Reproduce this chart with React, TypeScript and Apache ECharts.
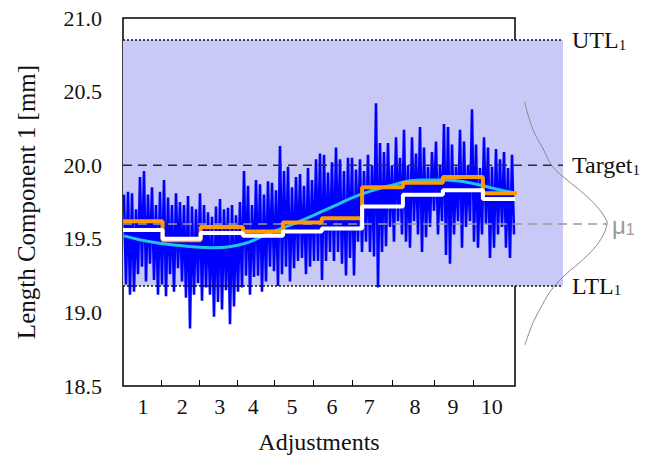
import React, { useEffect, useRef } from "react";
import * as echarts from "echarts";

// ---------- data ----------
const adjustmentLabels = ["1", "2", "3", "4", "5", "6", "7", "8", "9", "10"];
// x positions (axis units) of the adjustment labels and of the boundary ticks
const labelPos = [0.51, 1.51, 2.47, 3.32, 4.31, 5.33, 6.28, 7.45, 8.42, 9.41];
const tickBounds = [0.97, 1.94, 2.91, 3.85, 4.85, 5.84, 6.86, 7.93, 8.93];

// step (per-adjustment) levels
const stepStarts = [0, 1.01, 1.98, 3.06, 4.08, 5.07, 6.1, 7.14, 8.16, 9.18];
const orangeLevels = [19.62, 19.49, 19.58, 19.55, 19.61, 19.64, 19.85, 19.88, 19.92, 19.81];
const whiteLevels = [19.56, 19.5, 19.54, 19.52, 19.55, 19.57, 19.72, 19.8, 19.83, 19.77];
const orangeEnd = 10.13;
const whiteEnd = 10.0;

// smooth cyan trend
const cyanX = [0.03, 0.69, 1.45, 2.22, 2.98, 3.75, 4.52, 5.28, 6.05, 6.81, 7.58, 8.21, 8.85, 9.49, 10.0];
const cyanY = [19.52, 19.48, 19.455, 19.44, 19.46, 19.54, 19.62, 19.71, 19.8, 19.86, 19.9, 19.9, 19.88, 19.84, 19.81];

// measured signal: local maxima and minima, alternating in time
const blueTops = [
  19.8, 19.82, 19.81, 19.7, 19.92, 19.96, 19.8, 19.85, 19.73, 19.82,
  19.9, 19.78, 19.73, 19.81, 19.75, 19.73, 19.79, 19.72, 19.7, 19.81,
  19.73, 19.68, 19.65, 19.72, 19.77, 19.7, 19.71, 19.73, 19.66, 19.75,
  19.96, 19.86, 19.73, 19.9, 19.87, 19.8, 19.89, 19.88, 19.83, 20.13,
  19.96, 19.99, 19.85, 19.92, 19.94, 19.86, 19.98, 19.9, 20.04, 20.08,
  20.07, 19.95, 20.02, 20.12, 20.04, 19.96, 20.05, 20.05, 19.97, 20.04,
  19.96, 20.07, 20.0, 20.42, 20.15, 20.09, 20.15, 20.0, 20.19, 20.05,
  20.24, 20.0, 20.19, 20.08, 20.26, 20.12, 19.99, 20.09, 20.16, 20.0,
  20.28, 20.26, 20.14, 19.99, 20.24, 20.16, 20.0, 20.38, 20.14, 19.98,
  20.19, 20.12, 19.99, 20.11, 20.04, 20.09, 19.98, 20.07,
];
const blueBottoms = [
  19.19, 19.12, 19.14, 19.26, 19.31, 19.21, 19.33, 19.22, 19.12, 19.19,
  19.11, 19.26, 19.14, 19.3, 19.21, 19.1, 18.89, 19.12, 19.2, 19.08,
  19.17, 19.12, 18.97, 19.07, 19.02, 19.15, 18.92, 19.04, 19.14, 19.17,
  19.25, 19.12, 19.24, 19.25, 19.14, 19.21, 19.31, 19.28, 19.18, 19.26,
  19.31, 19.21, 19.3, 19.35, 19.37, 19.26, 19.31, 19.35, 19.35, 19.22,
  19.35, 19.41, 19.35, 19.41, 19.33, 19.25, 19.37, 19.25, 19.48, 19.41,
  19.48, 19.41, 19.38, 19.17, 19.41, 19.45, 19.58, 19.48, 19.62, 19.53,
  19.48, 19.44, 19.62, 19.53, 19.41, 19.51, 19.58, 19.69, 19.53, 19.62,
  19.39, 19.33, 19.53, 19.62, 19.44, 19.58, 19.62, 19.48, 19.44, 19.53,
  19.6, 19.37, 19.44, 19.53, 19.58, 19.44, 19.37, 19.53,
];

// limits
const UTL = 20.85;
const TARGET = 20.0;
const MU = 19.6;
const LTL = 19.18;

// distribution curve at the right (value, relative density)
const gaussY = [20.43, 20.24, 20.11, 19.99, 19.9, 19.81, 19.72, 19.63, 19.6, 19.52, 19.43, 19.34, 19.24, 19.14, 19.02, 18.93, 18.84, 18.78];
const gaussW = [0.03, 0.13, 0.25, 0.36, 0.53, 0.72, 0.88, 0.99, 1.0, 0.95, 0.84, 0.68, 0.48, 0.33, 0.21, 0.13, 0.07, 0.035];

const yTicks = [18.5, 19.0, 19.5, 20.0, 20.5, 21.0];

const SERIF = "Liberation Serif";

export default function App() {
  const ref = useRef<HTMLDivElement>(null);

  useEffect(() => {
    if (!ref.current) return;
    const chart = echarts.init(ref.current, null, { renderer: "svg" });

    const blueData: number[][] = [];
    const n = blueTops.length * 2;
    for (let i = 0; i < blueTops.length; i++) {
      blueData.push([((2 * i + 0.5) * 10) / n, blueTops[i]]);
      blueData.push([((2 * i + 1.5) * 10) / n, blueBottoms[i]]);
    }
    const stepData = (levels: number[], end: number) => {
      const d = stepStarts.map((x, i) => [x, levels[i]]);
      d.push([end, levels[levels.length - 1]]);
      return d;
    };

    chart.setOption({
      animation: false,
      backgroundColor: "#ffffff",
      grid: {
        left: 123,
        right: 147,
        top: 18,
        bottom: 72,
        show: true,
        borderColor: "#000",
        borderWidth: 1.5,
        backgroundColor: "transparent",
      },
      xAxis: {
        type: "value",
        min: 0,
        max: 10,
        axisLine: { show: false },
        splitLine: { show: false },
        axisTick: {
          show: true,
          inside: true,
          length: 6,
          customValues: tickBounds,
          lineStyle: { color: "#000", width: 1 },
        },
        axisLabel: {
          customValues: labelPos,
          formatter: (v: number) => {
            let best = 0;
            for (let i = 1; i < labelPos.length; i++) {
              if (Math.abs(labelPos[i] - v) < Math.abs(labelPos[best] - v)) best = i;
            }
            return adjustmentLabels[best];
          },
          margin: 9,
          fontSize: 22,
          fontFamily: SERIF,
          color: "#111",
        },
        name: "Adjustments",
        nameLocation: "middle",
        nameGap: 44,
        nameTextStyle: { fontSize: 24, fontFamily: SERIF, color: "#111" },
      },
      yAxis: {
        type: "value",
        min: yTicks[0],
        max: yTicks[yTicks.length - 1],
        interval: 0.5,
        axisLine: { show: false },
        axisTick: { show: false },
        splitLine: { show: false },
        axisLabel: {
          formatter: (v: number) => v.toFixed(1),
          margin: 21,
          fontSize: 22,
          fontFamily: SERIF,
          color: "#111",
        },
        name: "Length Component 1 [mm]",
        nameLocation: "middle",
        nameGap: 84,
        nameTextStyle: { fontSize: 25, fontFamily: SERIF, color: "#111" },
      },
      series: [
        {
          type: "line",
          data: blueData,
          symbol: "none",
          lineStyle: { color: "#0000ff", width: 2.6 },
          z: 2,
        },
        {
          type: "line",
          data: cyanX.map((x, i) => [x, cyanY[i]]),
          smooth: true,
          symbol: "none",
          lineStyle: { color: "#20c4e8", width: 3 },
          z: 4,
        },
        {
          type: "line",
          data: stepData(orangeLevels, orangeEnd),
          step: "end",
          symbol: "none",
          clip: false,
          lineStyle: { color: "#ff9900", width: 4 },
          z: 5,
        },
        {
          type: "line",
          data: stepData(whiteLevels, whiteEnd),
          step: "end",
          symbol: "none",
          lineStyle: { color: "#ffffff", width: 4 },
          z: 6,
        },
      ],
    });

    const py = (v: number) => chart.convertToPixel({ yAxisIndex: 0 }, v) as number;
    const x0 = chart.convertToPixel({ xAxisIndex: 0 }, 0) as number;
    const bandRight = 563;
    const muRight = 607;
    const labelX = 572;
    const curveBase = 522;
    const curveAmp = 85;

    const rich = {
      a: { fontSize: 24, fontFamily: SERIF, fill: "#111" },
      s: { fontSize: 15, fontFamily: SERIF, fill: "#111", padding: [9, 0, 0, 0] },
    };
    const richMu = {
      a: { fontSize: 24, fontFamily: "Liberation Sans", fill: "#9a9a9a" },
      s: { fontSize: 16, fontFamily: "Liberation Sans", fill: "#9a9a9a", padding: [9, 0, 0, 0] },
    };
    const label = (text: string, y: number, x = labelX, r: any = rich) => ({
      type: "text",
      x,
      y,
      z: 10,
      style: { text, rich: r, verticalAlign: "middle", align: "left" },
    });
    const hline = (v: number, x2: number, stroke: string, dash: number[], w = 1.5) => ({
      type: "line",
      z: 3,
      shape: { x1: x0, y1: py(v), x2, y2: py(v) },
      style: { stroke, lineWidth: w, lineDash: dash },
    });

    chart.setOption({
      graphic: [
        {
          type: "rect",
          z: 0,
          shape: { x: x0, y: py(UTL), width: bandRight - x0, height: py(LTL) - py(UTL) },
          style: { fill: "#c9c9f7" },
        },
        hline(UTL, bandRight, "#111", [2, 2]),
        hline(LTL, bandRight, "#111", [2, 2]),
        hline(TARGET, bandRight, "#2a2a48", [9, 6]),
        hline(MU, muRight, "#9a9a9a", [9, 6]),
        {
          type: "polyline",
          z: 3,
          shape: {
            points: gaussY.map((v, i) => [curveBase + gaussW[i] * curveAmp, py(v)]),
            smooth: 0.4,
          },
          style: { stroke: "#8a8a8a", lineWidth: 1, fill: null },
        },
        label("{a|UTL}{s|1}", py(UTL)),
        label("{a|Target}{s|1}", py(TARGET)),
        label("{a|LTL}{s|1}", py(LTL)),
        label("{a|μ}{s|1}", py(MU) + 1, 612, richMu),
      ],
    });

    return () => chart.dispose();
  }, []);

  return (
    <div
      ref={ref}
      style={{ position: "fixed", left: 0, top: 0, width: 662, height: 459, background: "#fff" }}
    />
  );
}
